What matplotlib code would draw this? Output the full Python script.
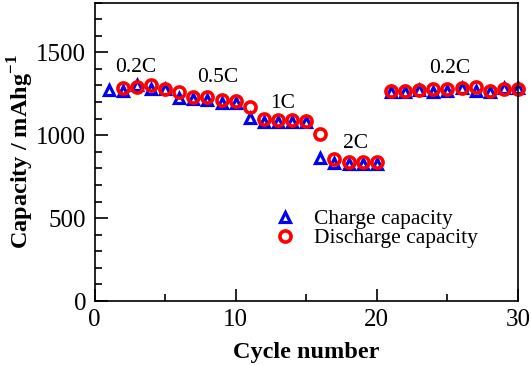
import matplotlib
matplotlib.use("Agg")
import matplotlib.pyplot as plt

plt.rcParams['font.family'] = ['Liberation Serif', 'DejaVu Serif']
plt.rcParams['mathtext.fontset'] = 'custom'
plt.rcParams['mathtext.rm'] = 'Liberation Serif'
plt.rcParams['mathtext.bf'] = 'Liberation Serif:bold'

charge_cycles = list(range(1, 31))
charge_capacity = [1275, 1266, 1300, 1276, 1276, 1226, 1218, 1212, 1196, 1192,
                   1101, 1081, 1078, 1077, 1077, 861, 835, 826, 826, 826,
                   1262, 1258, 1272, 1262, 1265, 1282, 1266, 1262, 1282, 1284]
discharge_cycles = list(range(2, 31))
discharge_capacity = [1286, 1290, 1300, 1280, 1262, 1230, 1232, 1212, 1206,
                      1168, 1095, 1091, 1090, 1085, 1005, 855, 841, 839, 839,
                      1266, 1269, 1275, 1280, 1280, 1286, 1292, 1269, 1280, 1280]

rate_labels = ["0.2C", "0.5C", "1C", "2C", "0.2C"]
rate_label_x = [2.9, 8.75, 13.35, 18.5, 25.2]
rate_label_y = [1410, 1345, 1190, 950, 1400]

fig = plt.figure(figsize=(5.31, 3.65), dpi=100)
ax = fig.add_axes([0.178, 0.1753, 0.7975, 0.8177])

ax.plot(charge_cycles, charge_capacity, linestyle='none', marker='^',
        markersize=7.5, markerfacecolor='none', markeredgecolor='#0000ee',
        markeredgewidth=2.3, label='Charge capacity', clip_on=False)
ax.plot(discharge_cycles, discharge_capacity, linestyle='none', marker='o',
        markersize=8, markerfacecolor='none', markeredgecolor='#ff0000',
        markeredgewidth=2.6, label='Discharge capacity', clip_on=False)

for t, x, y in zip(rate_labels, rate_label_x, rate_label_y):
    ax.text(x, y, t, fontsize=15.5, ha='center', va='center')

ax.set_xlim(0, 30)
ax.set_ylim(0, 1800)
ax.set_xticks([0, 10, 20, 30])
ax.set_xticks([5, 15, 25], minor=True)
ax.set_yticks([0, 500, 1000, 1500])
ax.set_yticks(range(0, 1801, 100), minor=True)
ax.tick_params(which='major', direction='in', length=9, width=1.2, labelsize=18, pad=6)
ax.tick_params(which='minor', direction='in', length=5, width=1.2)
for s in ax.spines.values():
    s.set_linewidth(1.2)

ax.set_xlabel('Cycle number', fontsize=17.5, fontweight='bold', labelpad=8)
ax.set_ylabel(r'Capacity / mAhg$^{\mathbf{-1}}$', fontsize=17.5, fontweight='bold', labelpad=0)

ax.legend(loc='upper left', bbox_to_anchor=(0.42, 0.307), frameon=False,
          fontsize=15.5, handletextpad=0.75, labelspacing=-0.05,
          handlelength=1.2, borderpad=0, borderaxespad=0)

fig.savefig('out.png', dpi=100)
